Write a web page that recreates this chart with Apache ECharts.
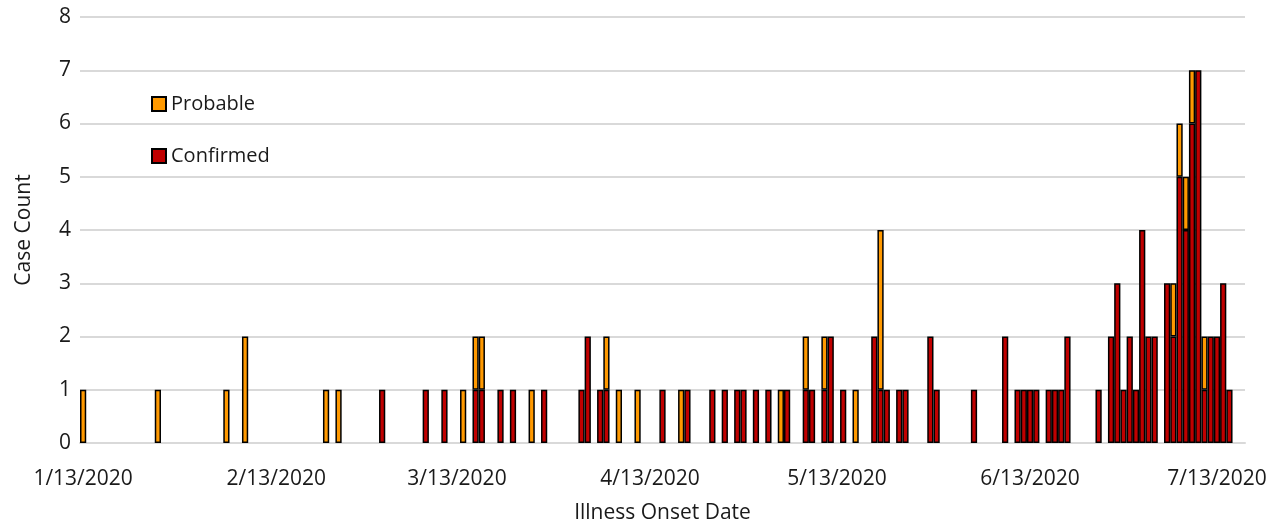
<!DOCTYPE html>
<html>
<head>
<meta charset="utf-8">
<title>Case Count by Illness Onset Date</title>
<script src="https://cdn.jsdelivr.net/npm/echarts@6/dist/echarts.min.js"></script>
<style>
  html, body { margin: 0; padding: 0; background: #fff; }
  #chart { width: 1283px; height: 529px; }
</style>
</head>
<body>
<div id="chart"></div>
<script>
// x-axis runs day by day from 1/13/2020 to 7/17/2020
const startDate = new Date(2020, 0, 13)
const dayCount = 187

// onset dates with cases
const confirmedDates = [
  '3/1/2020', '3/8/2020', '3/11/2020', '3/16/2020', '3/17/2020', '3/20/2020', '3/22/2020', '3/27/2020',
  '4/2/2020', '4/3/2020', '4/5/2020', '4/6/2020', '4/15/2020', '4/19/2020', '4/23/2020', '4/25/2020',
  '4/27/2020', '4/28/2020', '4/30/2020', '5/2/2020', '5/5/2020', '5/8/2020', '5/9/2020', '5/11/2020',
  '5/12/2020', '5/14/2020', '5/19/2020', '5/20/2020', '5/21/2020', '5/23/2020', '5/24/2020', '5/28/2020',
  '5/29/2020', '6/4/2020', '6/9/2020', '6/11/2020', '6/12/2020', '6/13/2020', '6/14/2020', '6/16/2020',
  '6/17/2020', '6/18/2020', '6/19/2020', '6/24/2020', '6/26/2020', '6/27/2020', '6/28/2020', '6/29/2020',
  '6/30/2020', '7/1/2020', '7/2/2020', '7/3/2020', '7/5/2020', '7/6/2020', '7/7/2020', '7/8/2020',
  '7/9/2020', '7/10/2020', '7/11/2020', '7/12/2020', '7/13/2020', '7/14/2020', '7/15/2020',
]
const confirmedCounts = [
  1, 1, 1, 1, 1, 1, 1, 1,
  1, 2, 1, 1, 1, 1, 1, 1,
  1, 1, 1, 1, 1, 1, 1, 1,
  2, 1, 2, 1, 1, 1, 1, 2,
  1, 1, 2, 1, 1, 1, 1, 1,
  1, 1, 2, 1, 2, 3, 1, 2,
  1, 4, 2, 2, 3, 2, 5, 4,
  6, 7, 1, 2, 2, 3, 1,
]

const probableDates = [
  '1/13/2020', '1/25/2020', '2/5/2020', '2/8/2020', '2/21/2020', '2/23/2020', '3/14/2020', '3/16/2020',
  '3/17/2020', '3/25/2020', '4/6/2020', '4/8/2020', '4/11/2020', '4/18/2020', '5/4/2020', '5/8/2020',
  '5/11/2020', '5/16/2020', '5/20/2020', '7/6/2020', '7/7/2020', '7/8/2020', '7/9/2020', '7/11/2020',
]
const probableCounts = [
  1, 1, 1, 2, 1, 1, 1, 1,
  1, 1, 1, 1, 1, 1, 1, 1,
  1, 1, 3, 1, 1, 1, 1, 1,
]

const yTicks = [0, 1, 2, 3, 4, 5, 6, 7, 8]

// 日期类目
const categories = []
for (let i = 0; i < dayCount; i++) {
  const d = new Date(startDate.getTime())
  d.setDate(d.getDate() + i)
  categories.push(`${d.getMonth() + 1}/${d.getDate()}/${d.getFullYear()}`)
}

function toSeries(dates, counts) {
  const map = {}
  dates.forEach((d, i) => { map[d] = counts[i] })
  return categories.map((c) => (map[c] != null ? map[c] : '-'))
}

const FONT = 'Open Sans'
const TEXT = '#1a1a1a'

const chart = echarts.init(document.getElementById('chart'))
chart.setOption({
  animation: false,
  textStyle: { fontFamily: FONT },
  grid: { left: 80, right: 38, top: 17, bottom: 85 },
  legend: {
    orient: 'vertical',
    left: 146,
    top: 89,
    itemGap: 32,
    itemWidth: 14,
    itemHeight: 14,
    icon: 'rect',
    data: ['Probable', 'Confirmed'],
    textStyle: { fontFamily: FONT, fontSize: 20, color: TEXT },
  },
  xAxis: {
    type: 'category',
    data: categories,
    name: 'Illness Onset Date',
    nameLocation: 'middle',
    nameGap: 60,
    nameTextStyle: { fontFamily: FONT, fontSize: 21, color: TEXT },
    axisTick: { show: false },
    axisLine: { lineStyle: { color: '#d9d9d9', width: 2 } },
    axisLabel: {
      interval: (i, v) => v.split('/')[1] === '13',
      margin: 26,
      fontFamily: FONT,
      fontSize: 21,
      color: TEXT,
    },
  },
  yAxis: {
    type: 'value',
    min: yTicks[0],
    max: yTicks[yTicks.length - 1],
    interval: 1,
    name: 'Case Count',
    nameLocation: 'middle',
    nameGap: 45,
    nameTextStyle: { fontFamily: FONT, fontSize: 21, color: TEXT },
    axisLabel: { margin: 9, fontFamily: FONT, fontSize: 21, color: TEXT },
    splitLine: { lineStyle: { color: '#d9d9d9', width: 2 } },
  },
  series: [
    {
      name: 'Confirmed',
      type: 'bar',
      stack: 'cases',
      barCategoryGap: '0%',
      data: toSeries(confirmedDates, confirmedCounts),
      itemStyle: { color: '#C00000', borderColor: '#000', borderWidth: 1.5 },
    },
    {
      name: 'Probable',
      type: 'bar',
      stack: 'cases',
      barCategoryGap: '0%',
      data: toSeries(probableDates, probableCounts),
      itemStyle: { color: '#FF9900', borderColor: '#000', borderWidth: 1.5 },
    },
  ],
})
</script>
</body>
</html>
